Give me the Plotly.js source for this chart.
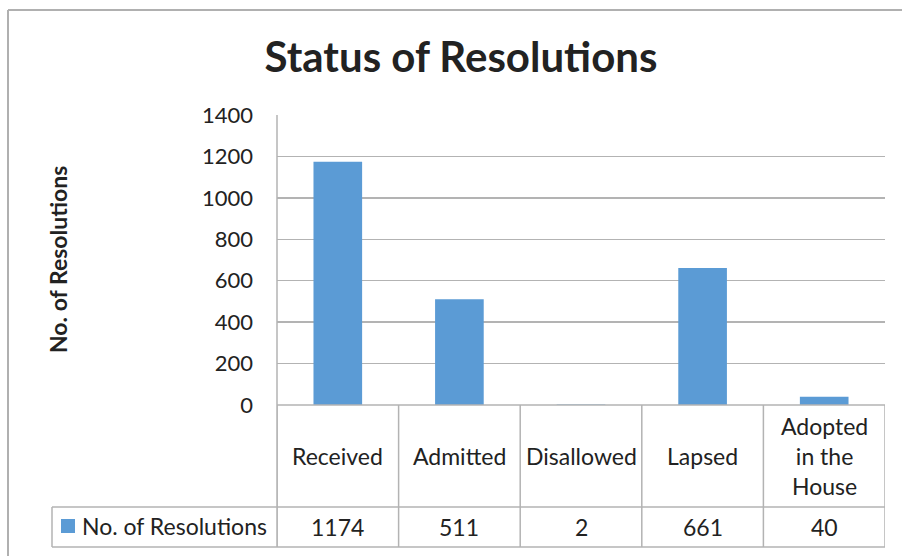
<!DOCTYPE html>
<html>
<head>
<meta charset="utf-8">
<script src="https://cdn.plot.ly/plotly-3.0.1.min.js"></script>
<style>html,body{margin:0;padding:0;background:#fff;}#chart{width:902px;height:556px;}</style>
</head>
<body>
<div id="chart"></div>
<script>
// ---- data ----
const categories = ["Received", "Admitted", "Disallowed", "Lapsed", "Adopted in the House"];
const categoryLabels = ["Received", "Admitted", "Disallowed", "Lapsed", "Adopted<br>in the<br>House"];
const resolutions = [1174, 511, 2, 661, 40];
const seriesName = "No. of Resolutions";
const yTicks = [0, 200, 400, 600, 800, 1000, 1200, 1400];

// ---- layout geometry (pixels) ----
const W = 902, H = 556;
const M = {l: 277, r: 17, t: 115, b: 151};
const pw = W - M.l - M.r, ph = H - M.t - M.b;
const px = X => (X - M.l) / pw;          // pixel x -> paper x
const py = Y => (H - M.b - Y) / ph;      // pixel y -> paper y

const FONT = "Lato, 'Open Sans', sans-serif";
const GRID = "#b3b3b3";
const TXT = "#222222";

const rowTop = py(405), rowMid = py(507), rowBot = py(547);

const shapes = [];
// outer chart border (top and left only visible)
shapes.push({type:"line", xref:"paper", yref:"paper", x0:px(8), x1:px(W+2), y0:py(10), y1:py(10), line:{color:"#b0b0b0", width:2}});
shapes.push({type:"line", xref:"paper", yref:"paper", x0:px(8), x1:px(8), y0:py(10), y1:py(H+2), line:{color:"#b0b0b0", width:2}});
// data table horizontal lines
shapes.push({type:"line", xref:"paper", yref:"paper", x0:0, x1:1, y0:rowTop, y1:rowTop, line:{color:GRID, width:1.5}});
shapes.push({type:"line", xref:"paper", yref:"paper", x0:px(52), x1:1, y0:rowMid, y1:rowMid, line:{color:GRID, width:1.5}});
shapes.push({type:"line", xref:"paper", yref:"paper", x0:px(52), x1:1, y0:rowBot, y1:rowBot, line:{color:GRID, width:1.5}});
shapes.push({type:"line", xref:"paper", yref:"paper", x0:px(52), x1:px(52), y0:rowMid, y1:rowBot, line:{color:GRID, width:1.5}});
// axis line extended + category boundaries
shapes.push({type:"line", xref:"paper", yref:"paper", x0:0, x1:0, y0:1, y1:rowBot, line:{color:GRID, width:1.5}});
for (let i = 0; i <= categories.length; i++) {
  shapes.push({type:"line", xref:"x", yref:"paper", x0:i - 0.5, x1:i - 0.5, y0:rowTop, y1:rowBot, line:{color:GRID, width:1.5}});
}
// legend key
shapes.push({type:"rect", xref:"paper", yref:"paper", x0:px(61), x1:px(75), y0:py(519), y1:py(533), fillcolor:"#5b9bd5", line:{width:0}});

const annotations = [];
categories.forEach((c, i) => {
  annotations.push({xref:"x", yref:"paper", x:i, y:py(456), text:categoryLabels[i], showarrow:false,
    font:{family:FONT, size:23, color:TXT}, xanchor:"center", yanchor:"middle"});
  annotations.push({xref:"x", yref:"paper", x:i, y:py(527), text:String(resolutions[i]), showarrow:false,
    font:{family:FONT, size:23, color:TXT}, xanchor:"center", yanchor:"middle"});
});
annotations.push({xref:"paper", yref:"paper", x:px(80), y:py(526), text:seriesName, showarrow:false,
  font:{family:FONT, size:23, color:TXT}, xanchor:"left", yanchor:"middle"});
// y-axis title
annotations.push({xref:"paper", yref:"paper", x:px(58), y:py(260), text:"<b>No. of Resolutions</b>", showarrow:false,
  textangle:-90, font:{family:FONT, size:23, color:TXT}, xanchor:"center", yanchor:"middle"});

const data = [{
  type:"bar", x:categories, y:resolutions, name:seriesName,
  marker:{color:"#5b9bd5", line:{width:0}}, hoverinfo:"x+y"
}];

const layout = {
  width:W, height:H,
  margin:M,
  paper_bgcolor:"#fff", plot_bgcolor:"#fff",
  showlegend:false,
  bargap:0.6,
  title:{text:"<b>Status of Resolutions</b>", font:{family:FONT, size:42, color:TXT},
    x:px(461), xref:"paper", xanchor:"center", y:1 - 57/H, yref:"container", yanchor:"middle"},
  xaxis:{type:"category", showticklabels:false, ticks:"", showgrid:false, zeroline:false, showline:false,
    range:[-0.5, categories.length - 0.5], fixedrange:true},
  yaxis:{range:[0, 1400], tickvals:yTicks, ticktext:yTicks.map(String), showgrid:true, gridcolor:GRID, gridwidth:1.5,
    zeroline:false, showline:false, ticks:"", ticklabelstandoff:23,
    tickfont:{family:FONT, size:22, color:TXT}, fixedrange:true},
  shapes:shapes, annotations:annotations
};

Plotly.newPlot("chart", data, layout, {displayModeBar:false, staticPlot:true});
</script>
</body>
</html>
